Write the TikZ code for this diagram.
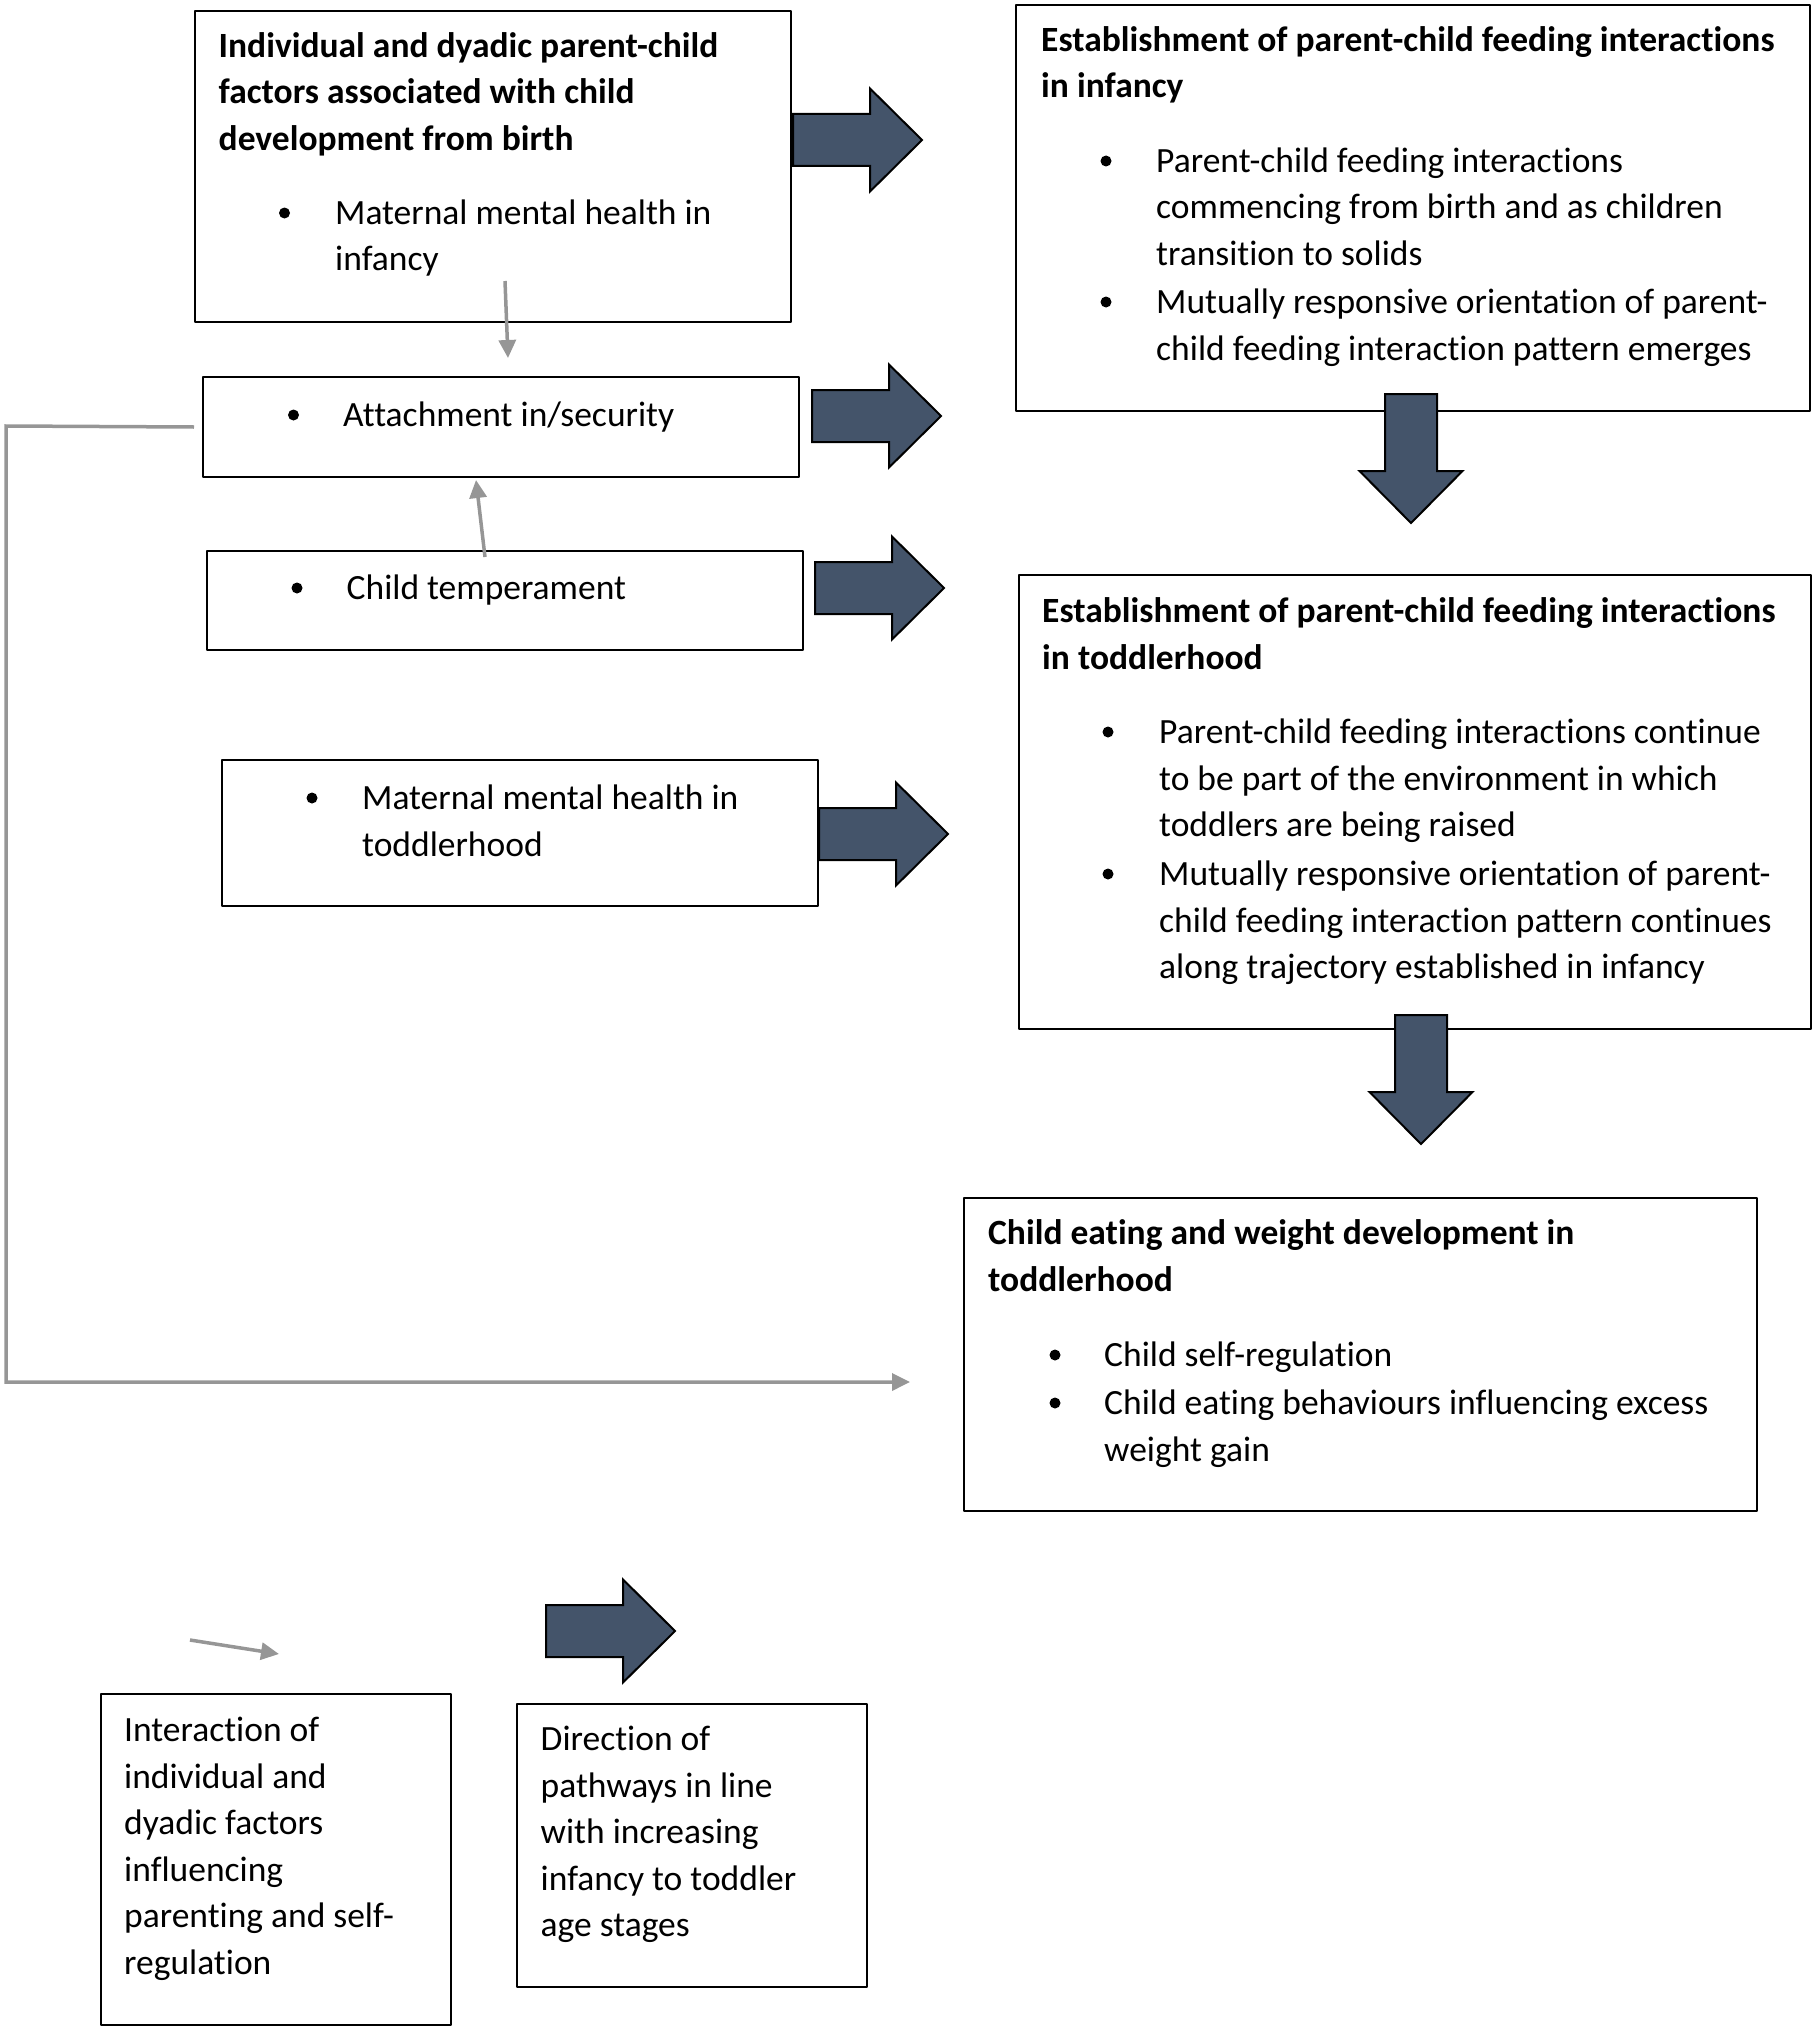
\documentclass[tikz,border=0pt]{standalone}
\usepackage{fontspec}
\setmainfont{Carlito}[Ligatures=NoCommon]
\usetikzlibrary{arrows.meta}
\definecolor{slate}{HTML}{44546A}
\definecolor{linkgray}{RGB}{150,150,150}
\newcommand{\stack}[1]{\begin{tabular}[t]{@{}l@{}}#1\end{tabular}}
\tikzset{
  box/.style={draw, line width=2pt, inner sep=0pt, anchor=north west},
  txt/.style={inner sep=0pt, anchor=base west, yshift=-4.5pt, font=\fontsize{35.5}{46.5}\selectfont},
  hd/.style={txt, font=\fontsize{35.5}{46.5}\selectfont\bfseries},
  link/.style={draw=linkgray, line width=3.5pt, -{Triangle[length=18pt,width=17pt]}},
  fatarrow/.pic={\filldraw[fill=slate, draw=black, line width=2pt, line join=miter]
    (0,-26) -- (77,-26) -- (77,-51.5) -- (129,0) -- (77,51.5) -- (77,26) -- (0,26) -- cycle;}
}
\begin{document}
\begin{tikzpicture}[x=1pt, y=-1pt, line join=round]
	\useasboundingbox (0,0) rectangle (1817,2028);
	% Boxes
	\node[box, minimum width=596pt, minimum height=311pt] (facA) at (194,10) {};
	\node[box, minimum width=596pt, minimum height=100pt] (attach) at (202,376) {};
	\node[box, minimum width=596pt, minimum height=99pt] (temper) at (206,550) {};
	\node[box, minimum width=596pt, minimum height=146pt] (mmhtod) at (221,759) {};
	\node[box, minimum width=794pt, minimum height=406pt] (infeed) at (1015,4) {};
	\node[box, minimum width=792pt, minimum height=454pt] (todfeed) at (1018,574) {};
	\node[box, minimum width=793pt, minimum height=313pt] (eatwt) at (963,1197) {};
	\node[box, minimum width=350pt, minimum height=331pt] (keylink) at (100,1693) {};
	\node[box, minimum width=350pt, minimum height=283pt] (keyfat) at (516,1703) {};
	% Texts
	\node[hd] (facAhd) at (218.5,53) {\stack{Individual and dyadic parent-child\\factors associated with child\\development from birth}};
	\node[txt] (facAi) at (335,220) {\stack{Maternal mental health in\\infancy}};
	\node[txt] (attachi) at (343,422) {Attachment in/security};
	\node[txt] (temperi) at (346.5,595) {Child temperament};
	\node[txt] (mmhtodi) at (362,805) {\stack{Maternal mental health in\\toddlerhood}};
	\node[hd] (infeedhd) at (1041,47) {\stack{Establishment of parent-child feeding interactions\\in infancy}};
	\node[txt] (infeedi) at (1156,168) {\stack{Parent-child feeding interactions\\commencing from birth and as children\\transition to solids}};
	\node[txt] (infeedii) at (1156,309) {\stack{Mutually responsive orientation of parent-\\child feeding interaction pattern emerges}};
	\node[hd] (todfeedhd) at (1042,618) {\stack{Establishment of parent-child feeding interactions\\in toddlerhood}};
	\node[txt] (todfeedi) at (1159,739) {\stack{Parent-child feeding interactions continue\\to be part of the environment in which\\toddlers are being raised}};
	\node[txt] (todfeedii) at (1159,881) {\stack{Mutually responsive orientation of parent-\\child feeding interaction pattern continues\\along trajectory established in infancy}};
	\node[hd] (eatwthd) at (988,1240) {\stack{Child eating and weight development in\\toddlerhood}};
	\node[txt] (eatwti) at (1104,1362) {Child self-regulation};
	\node[txt] (eatwtii) at (1104,1410) {\stack{Child eating behaviours influencing excess\\weight gain}};
	\node[txt] (keylinkt) at (124,1737) {\stack{Interaction of\\individual and\\dyadic factors\\influencing\\parenting and self-\\regulation}};
	\node[txt] (keyfatt) at (540.5,1746) {\stack{Direction of\\pathways in line\\with increasing\\infancy to toddler\\age stages}};
	% Bullets
	\fill (284.5,213) circle (5.5);
	\fill (293.5,415) circle (5.5);
	\fill (297,588) circle (5.5);
	\fill (312,798) circle (5.5);
	\fill (1106,161) circle (5.5);
	\fill (1106,302) circle (5.5);
	\fill (1108,732) circle (5.5);
	\fill (1108,874) circle (5.5);
	\fill (1055,1355) circle (5.5);
	\fill (1055,1403) circle (5.5);
	% Block arrows
	\pic at (793,140) {fatarrow};
	\pic at (812,416) {fatarrow};
	\pic at (815,588) {fatarrow};
	\pic at (819,834) {fatarrow};
	\pic[rotate=-90] at (1411,394) {fatarrow};
	\pic[rotate=-90] at (1421,1015) {fatarrow};
	\pic at (546,1631) {fatarrow};
	% Gray links
	\coordinate (dtip) at (910,1382);
	\coordinate (k1) at (190,1640);
	\coordinate (k2) at (279,1654);
	\draw[link] ([xshift=12pt, yshift=42pt]facA.south) -- ([xshift=7pt, yshift=18pt]attach.north);
	\draw[link] ([xshift=-20pt, yshift=-7pt]temper.north) -- ([xshift=-25pt, yshift=-2pt]attach.south);
	\draw[link, line join=miter] ([xshift=-8pt]attach.west) -- (6,426) |- (dtip);
	\draw[link] (k1) -- (k2);
\end{tikzpicture}
\end{document}
